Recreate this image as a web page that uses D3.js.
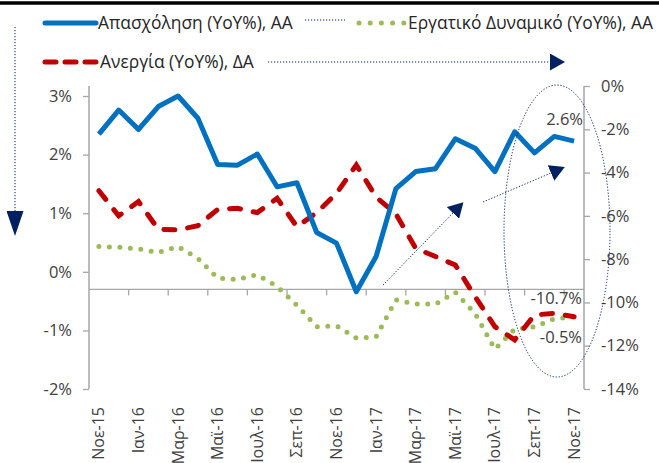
<!DOCTYPE html>
<html>
<head>
<meta charset="utf-8">
<script src="https://cdnjs.cloudflare.com/ajax/libs/d3/7.8.5/d3.min.js"></script>
<style>
  html, body { margin: 0; padding: 0; background: #fff; overflow: hidden; }
  svg { display: block; font-family: 'Open Sans', sans-serif; }
  .tick text { fill: #404040; }
</style>
</head>
<body>
<div id="chart"></div>
<script>
const months = ['Νοε-15', 'Δεκ-15', 'Ιαν-16', 'Φεβ-16', 'Μαρ-16', 'Απρ-16', 'Μαϊ-16', 'Ιουν-16',
  'Ιουλ-16', 'Αυγ-16', 'Σεπ-16', 'Οκτ-16', 'Νοε-16', 'Δεκ-16', 'Ιαν-17', 'Φεβ-17', 'Μαρ-17',
  'Απρ-17', 'Μαϊ-17', 'Ιουν-17', 'Ιουλ-17', 'Αυγ-17', 'Σεπ-17', 'Οκτ-17', 'Νοε-17'];

// Απασχόληση (YoY%), left axis
const employment = [2.35, 2.76, 2.43, 2.82, 3.0, 2.62, 1.83, 1.82, 2.01, 1.45, 1.52, 0.67, 0.49,
  -0.34, 0.26, 1.42, 1.71, 1.76, 2.27, 2.11, 1.71, 2.39, 2.03, 2.31, 2.23];
// Εργατικό Δυναμικό (YoY%), left axis
const labourForce = [0.43, 0.42, 0.39, 0.33, 0.43, 0.23, -0.11, -0.13, -0.05, -0.25, -0.57, -0.94, -0.92,
  -1.13, -1.11, -0.48, -0.55, -0.55, -0.35, -0.71, -1.32, -0.98, -0.94, -0.80, -0.77];
// Ανεργία (YoY%), right axis
const unemployment = [-4.84, -6.0, -5.34, -6.62, -6.65, -6.45, -5.70, -5.65, -5.85, -5.19, -6.50, -5.85, -4.96,
  -3.65, -5.13, -5.91, -7.50, -7.88, -8.27, -9.73, -11.12, -11.73, -10.58, -10.50, -10.66];

const leftTicks = [-2, -1, 0, 1, 2, 3];
const rightTicks = [-14, -12, -10, -8, -6, -4, -2, 0];
const crossAt = -0.3;

const width = 659, height = 463;
const plot = { left: 89, right: 584, top: 86, bottom: 389 };

const navy = '#002060';
const axisGrey = '#a6a6a6';

const svg = d3.select('#chart')
  .append('svg')
  .attr('width', width)
  .attr('height', height);

const defs = svg.append('defs');
function arrowMarker(id, w, h) {
  defs.append('marker')
    .attr('id', id)
    .attr('markerUnits', 'userSpaceOnUse')
    .attr('viewBox', `0 0 ${w} ${h}`)
    .attr('refX', 0)
    .attr('refY', h / 2)
    .attr('markerWidth', w)
    .attr('markerHeight', h)
    .attr('orient', 'auto')
    .append('path')
    .attr('d', `M0,0L${w},${h / 2}L0,${h}Z`)
    .attr('fill', navy);
}
arrowMarker('arrowBig', 25, 17);
arrowMarker('arrowMid', 15, 17);

// =====================
// SCALES
// =====================
const x = d3.scaleBand()
  .domain(months)
  .range([plot.left, plot.right]);

const yL = d3.scaleLinear()
  .domain([-2, 3])
  .range([plot.bottom, 96]);

const yR = d3.scaleLinear()
  .domain([-14, 0])
  .range([plot.bottom, plot.top]);

const cx = d => x(d) + x.bandwidth() / 2;

// top rule
svg.append('line')
  .attr('x1', 0).attr('x2', width)
  .attr('y1', 3).attr('y2', 3)
  .attr('stroke', '#000')
  .attr('stroke-width', 3.3);

// =====================
// AXES
// =====================
const leftAxis = svg.append('g')
  .attr('transform', `translate(${plot.left},0)`)
  .call(d3.axisLeft(yL).tickValues(leftTicks).tickSize(6).tickSizeOuter(0).tickPadding(11)
    .tickFormat(d => d + '%'));

const rightAxis = svg.append('g')
  .attr('transform', `translate(${plot.right},0)`)
  .call(d3.axisRight(yR).tickValues(rightTicks).tickSize(6).tickSizeOuter(0).tickPadding(11)
    .tickFormat(d => d + '%'));

[leftAxis, rightAxis].forEach(g => {
  g.select('.domain').remove();
  g.selectAll('.tick line').attr('stroke', axisGrey).attr('stroke-width', 1.3);
  g.selectAll('.tick text').style('font-size', '16.5px').style('font-family', "'Open Sans', sans-serif");
});

svg.append('line')
  .attr('x1', plot.left).attr('x2', plot.left)
  .attr('y1', plot.top).attr('y2', plot.bottom)
  .attr('stroke', axisGrey).attr('stroke-width', 1.5);
svg.append('line')
  .attr('x1', plot.right).attr('x2', plot.right)
  .attr('y1', plot.top).attr('y2', plot.bottom)
  .attr('stroke', axisGrey).attr('stroke-width', 1.5);

// category axis crossing the left axis
const yCross = yL(crossAt);
svg.append('line')
  .attr('x1', plot.left).attr('x2', plot.right)
  .attr('y1', yCross).attr('y2', yCross)
  .attr('stroke', axisGrey).attr('stroke-width', 1.3);

svg.selectAll('.cat-tick')
  .data(months.filter((d, i) => i > 0 && i % 2 === 0))
  .enter()
  .append('line')
  .attr('class', 'cat-tick')
  .attr('x1', d => x(d)).attr('x2', d => x(d))
  .attr('y1', yCross).attr('y2', yCross + 6)
  .attr('stroke', axisGrey).attr('stroke-width', 1.3);

// labels sit below the plot (low position)
svg.selectAll('.cat-label')
  .data(months.filter((d, i) => i % 2 === 0))
  .enter()
  .append('text')
  .attr('class', 'cat-label')
  .attr('transform', d => `translate(${cx(d) + 5.5},407) rotate(-90)`)
  .attr('text-anchor', 'end')
  .style('font-size', '16px')
  .attr('fill', '#404040')
  .text(d => d);

// =====================
// SERIES
// =====================
const lineL = d3.line().x((d, i) => cx(months[i])).y(d => yL(d));
const lineR = d3.line().x((d, i) => cx(months[i])).y(d => yR(d));

svg.append('path')
  .attr('d', lineL(labourForce))
  .attr('fill', 'none')
  .attr('stroke', '#9bbb59')
  .attr('stroke-width', 5)
  .attr('stroke-linecap', 'round')
  .attr('stroke-dasharray', '0 10.5');

svg.append('path')
  .attr('d', lineR(unemployment))
  .attr('fill', 'none')
  .attr('stroke', '#c00000')
  .attr('stroke-width', 5)
  .attr('stroke-linecap', 'round')
  .attr('stroke-dasharray', '11 13');

svg.append('path')
  .attr('d', lineL(employment))
  .attr('fill', 'none')
  .attr('stroke', '#0070c0')
  .attr('stroke-width', 5)
  .attr('stroke-linejoin', 'round');

// =====================
// ANNOTATIONS
// =====================
const notes = svg.append('g')
  .attr('fill', '#404040')
  .attr('text-anchor', 'end')
  .style('font-size', '16.5px');
notes.append('text').attr('x', 583).attr('y', 125).text('2.6%');
notes.append('text').attr('x', 582).attr('y', 304).text('-10.7%');
notes.append('text').attr('x', 582).attr('y', 343).text('-0.5%');

svg.append('ellipse')
  .attr('cx', 557).attr('cy', 231)
  .attr('rx', 53).attr('ry', 146)
  .attr('fill', 'none')
  .attr('stroke', navy)
  .attr('stroke-width', 1)
  .attr('stroke-dasharray', '1.2 1.8');

function dottedArrow(x1, y1, x2, y2, marker) {
  svg.append('line')
    .attr('x1', x1).attr('y1', y1)
    .attr('x2', x2).attr('y2', y2)
    .attr('stroke', navy)
    .attr('stroke-width', 1)
    .attr('stroke-dasharray', '1.2 1.8')
    .attr('marker-end', `url(#${marker})`);
}
dottedArrow(383, 285, 453, 213, 'arrowMid');
dottedArrow(483, 202, 551, 173, 'arrowMid');
dottedArrow(15, 27, 15, 211, 'arrowBig');
dottedArrow(268, 62, 550, 62, 'arrowMid');

// =====================
// LEGEND
// =====================
const legend = svg.append('g')
  .style('font-size', '17.4px')
  .attr('fill', '#262626');

legend.append('line')
  .attr('x1', 45).attr('x2', 96).attr('y1', 23).attr('y2', 23)
  .attr('stroke', '#0070c0').attr('stroke-width', 5).attr('stroke-linecap', 'round');
legend.append('text').attr('x', 98).attr('y', 29).text('Απασχόληση (YoY%), AA');

legend.append('line')
  .attr('x1', 305).attr('x2', 345).attr('y1', 20).attr('y2', 20)
  .attr('stroke', navy).attr('stroke-width', 1).attr('stroke-dasharray', '1.2 1.8');

legend.append('line')
  .attr('x1', 359).attr('x2', 404).attr('y1', 23).attr('y2', 23)
  .attr('stroke', '#9bbb59').attr('stroke-width', 5).attr('stroke-linecap', 'round')
  .attr('stroke-dasharray', '0 11.2');
legend.append('text').attr('x', 408).attr('y', 29).text('Εργατικό Δυναμικό (YoY%), AA');

legend.append('line')
  .attr('x1', 45).attr('x2', 96).attr('y1', 62).attr('y2', 62)
  .attr('stroke', '#c00000').attr('stroke-width', 5).attr('stroke-linecap', 'round')
  .attr('stroke-dasharray', '11 9');
legend.append('text').attr('x', 100).attr('y', 68).text('Ανεργία (YoY%), ΔΑ');
</script>
</body>
</html>
